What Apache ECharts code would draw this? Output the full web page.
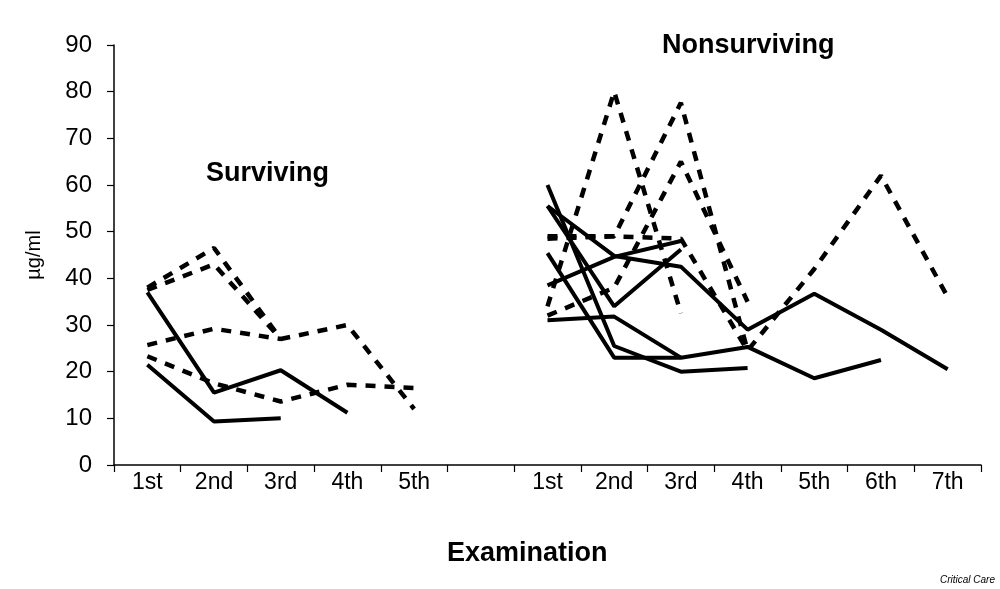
<!DOCTYPE html>
<html>
<head>
<meta charset="utf-8">
<script src="https://cdn.jsdelivr.net/npm/echarts@6/dist/echarts.min.js"></script>
<style>html,body{margin:0;padding:0;background:#fff}#c{width:1000px;height:589px}</style>
</head>
<body>
<div id="c"></div>
<script>
// Category labels: surviving (5), a blank gap slot, nonsurviving (7)
var survivingLabels = ['1st', '2nd', '3rd', '4th', '5th'];
var nonsurvivingLabels = ['1st', '2nd', '3rd', '4th', '5th', '6th', '7th'];
var yTicks = [0, 10, 20, 30, 40, 50, 60, 70, 80, 90];

// Surviving patients (µg/ml per examination)
var survSolid1 = [37, 15.5, 20.3, 11.2];
var survSolid2 = [21.5, 9.3, 10];
var survDash1 = [38, 46.5, 27, 30, 12];
var survDash2 = [37.5, 43, 27];
var survDash3 = [25.7, 29.2, 27];
var survDash4 = [23.3, 17.5, 13.6, 17.2, 16.5];

// Nonsurviving patients
var nonSolid1 = [55.5, 44.8, 42.5, 29, 36.7, 29, 20.5];
var nonSolid2 = [38.5, 44.6, 48];
var nonSolid3 = [60, 25.5, 20, 20.8];
var nonSolid4 = [55.5, 34, 46.2];
var nonSolid5 = [45.4, 23, 23, 25.3, 18.6, 22.5];
var nonSolid6 = [31, 31.8, 23];
var nonDash1 = [34, 80, 32.5];
var nonDash2 = [48.5, 49, 77.6, 24.5];
var nonDash3 = [49, 49, 48.5, 24.5, 42, 62, 36];
var nonDash4 = [32, 38, 65, 35];

var categories = survivingLabels.concat(['']).concat(nonsurvivingLabels);
var nonOffset = survivingLabels.length + 1;

function place(values, offset) {
  var arr = [];
  for (var i = 0; i < categories.length; i++) arr.push(null);
  for (var j = 0; j < values.length; j++) arr[offset + j] = values[j];
  return arr;
}

var solidStyle = { color: '#000', width: 4, type: 'solid' };
var dashStyle = { color: '#000', width: 4.5, type: [10, 9], cap: 'butt' };

function mk(values, offset, dashed) {
  return {
    type: 'line',
    data: place(values, offset),
    showSymbol: false,
    symbol: 'none',
    connectNulls: false,
    silent: true,
    lineStyle: dashed ? dashStyle : solidStyle,
    z: dashed ? 3 : 2
  };
}

var series = [
  mk(survSolid1, 0, false), mk(survSolid2, 0, false),
  mk(survDash1, 0, true), mk(survDash2, 0, true), mk(survDash3, 0, true), mk(survDash4, 0, true),
  mk(nonSolid1, nonOffset, false), mk(nonSolid2, nonOffset, false), mk(nonSolid3, nonOffset, false),
  mk(nonSolid4, nonOffset, false), mk(nonSolid5, nonOffset, false), mk(nonSolid6, nonOffset, false),
  mk(nonDash1, nonOffset, true), mk(nonDash2, nonOffset, true), mk(nonDash3, nonOffset, true), mk(nonDash4, nonOffset, true)
];

var font = '"Liberation Sans", Arial, sans-serif';
var chart = echarts.init(document.getElementById('c'), null, { renderer: 'canvas' });
chart.setOption({
  animation: false,
  backgroundColor: '#fff',
  grid: { left: 114, right: 19, top: 45, bottom: 124, containLabel: false },
  xAxis: {
    type: 'category',
    data: categories,
    boundaryGap: true,
    axisLine: { lineStyle: { color: '#000', width: 1.5 } },
    axisTick: { show: true, interval: 0, length: 7, lineStyle: { color: '#000', width: 1.2 } },
    axisLabel: { interval: 0, margin: 6, fontFamily: font, fontSize: 23, color: '#000' },
    splitLine: { show: false }
  },
  yAxis: {
    type: 'value',
    min: yTicks[0],
    max: yTicks[yTicks.length - 1],
    interval: 10,
    name: 'µg/ml',
    nameLocation: 'middle',
    nameRotate: 90,
    nameGap: 70,
    nameTextStyle: { fontFamily: font, fontSize: 20, color: '#000' },
    axisLine: { show: true, lineStyle: { color: '#000', width: 1.5 } },
    axisTick: { show: true, length: 7, lineStyle: { color: '#000', width: 1.2 } },
    axisLabel: { margin: 22, fontFamily: font, fontSize: 24, color: '#000' },
    splitLine: { show: false }
  },
  graphic: [
    { type: 'text', left: 206, top: 160, style: { text: 'Surviving', font: 'bold 27px ' + font, fill: '#000' } },
    { type: 'text', left: 662, top: 32, style: { text: 'Nonsurviving', font: 'bold 27px ' + font, fill: '#000' } },
    { type: 'text', left: 447, top: 540, style: { text: 'Examination', font: 'bold 27px ' + font, fill: '#000' } },
    { type: 'text', left: 940, top: 575, style: { text: 'Critical Care', font: 'italic 10px ' + font, fill: '#000' } }
  ],
  series: series
});
</script>
</body>
</html>
